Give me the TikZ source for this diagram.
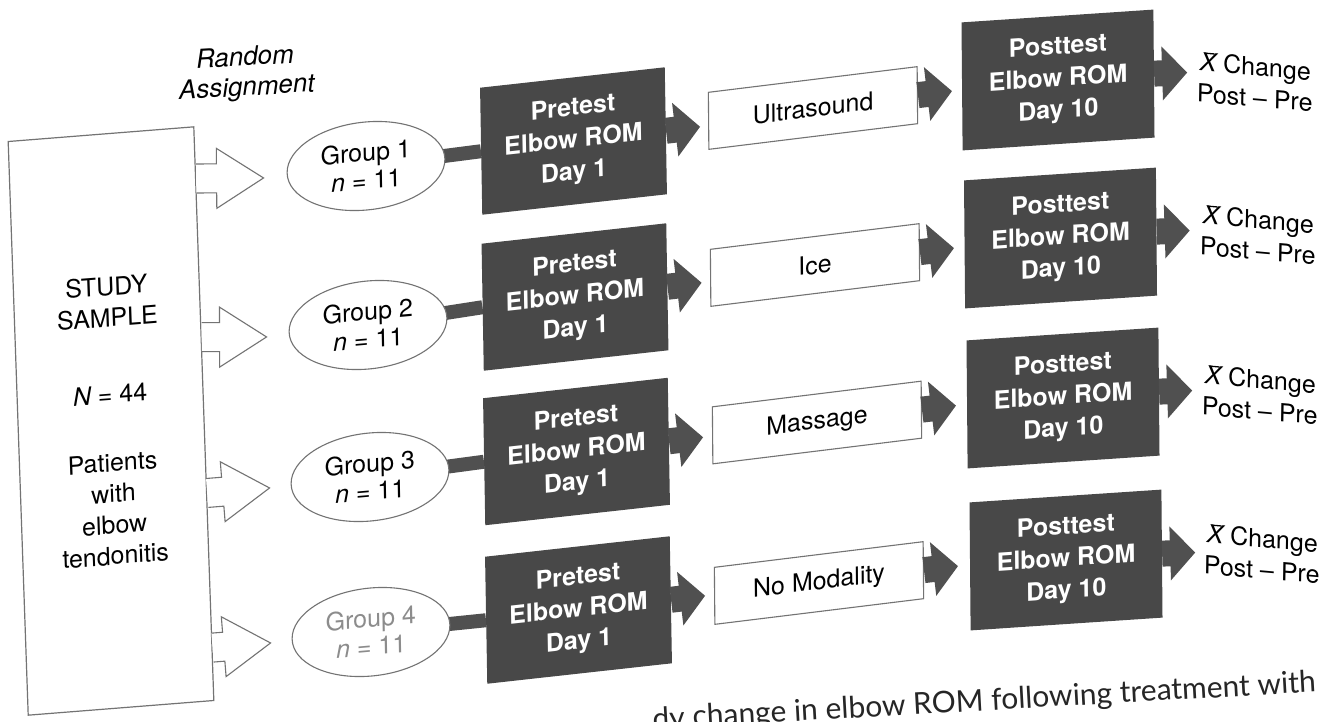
\documentclass[tikz,border=0pt]{standalone}
\usepackage{fontspec}
\setmainfont{TeX Gyre Heros}
\newfontfamily\capfont{Lato}
\usetikzlibrary{calc,backgrounds,shapes.geometric}
\definecolor{boxdark}{RGB}{72,72,72}
\definecolor{arrdark}{RGB}{80,80,80}
\definecolor{rimgray}{RGB}{115,115,115}

\newcommand\arrowpts[5]{%
  \coordinate (faS) at (#1);
  \coordinate (faE) at (#2);
  \coordinate (faH) at ($(faE)!#5!(faS)$);
  \coordinate (fa1) at ($(faS)!#3!90:(faE)$);
  \coordinate (fa2) at ($(faH)!#3!-90:(faS)$);
  \coordinate (fa3) at ($(faH)!#4!-90:(faS)$);
  \coordinate (fa4) at ($(faH)!#4!90:(faS)$);
  \coordinate (fa5) at ($(faH)!#3!90:(faS)$);
  \coordinate (fa6) at ($(faS)!#3!-90:(faE)$);
}
\newcommand\darkarrow[2]{%
  \arrowpts{#1}{#2}{13pt}{27pt}{25pt}%
  \fill[arrdark] (fa1)--(fa2)--(fa3)--(faE)--(fa4)--(fa5)--(fa6)--cycle;}
\newcommand\hollowarrow[2]{%
  \arrowpts{#1}{#2}{14.5pt}{30pt}{47pt}%
  \fill[white] (fa1)--(fa2)--(fa3)--(faE)--(fa4)--(fa5)--(fa6)--cycle;
  \draw[rimgray, line width=1.1pt, line join=miter] (fa1)--(fa2)--(fa3)--(faE)--(fa4)--(fa5)--(fa6);}
\newcommand\xbar{\mbox{\itshape X}\llap{\raisebox{17.5pt}{\rule{9pt}{1.3pt}}\hspace{2pt}}}

\tikzset{
  txt/.style={font=\fontsize{25}{31}\selectfont, align=center, inner sep=0pt},
  studybox/.style={txt, draw=rimgray, line width=1.2pt, fill=white, minimum width=186pt, minimum height=574pt, rotate=2, yslant=0.044},
  grp/.style={txt, ellipse, draw=rimgray, line width=1.1pt, fill=white, minimum width=158pt, minimum height=88pt, font=\fontsize{25}{28}\selectfont, rotate=1, yslant=0.07},
  darkbox/.style={txt, fill=boxdark, text=white, font=\bfseries\fontsize{25}{32}\selectfont},
  prebox/.style={darkbox, minimum width=185pt, minimum height=127pt, rotate=1, yslant=0.093},
  postbox/.style={darkbox, minimum width=192pt, minimum height=128pt, rotate=0.5, yslant=0.058},
  treat/.style={txt, draw=rimgray, line width=1.1pt, fill=white, minimum width=209pt, minimum height=57pt, rotate=0.5, yslant=0.114},
  result/.style={txt, rotate=-1, yslant=-0.07},
  conn/.style={draw=arrdark, line width=14pt},
}

\begin{document}
\begin{tikzpicture}[x=1pt,y=-1pt]
\useasboundingbox (0,0) rectangle (1336,721);
\clip (0,0) rectangle (1336,721);
\begin{scope}[on background layer]
  \fill[white] (0,0) rectangle (1336,721);
\end{scope}

\node[txt, font=\itshape\fontsize{26}{30}\selectfont, rotate=3.4] (ra) at (246,74) {Random\\Assignment};

\node[studybox] (study) at (111,421) {STUDY\\SAMPLE\\[46pt]{\itshape N} = 44\\[37pt]Patients\\with\\elbow\\tendonitis};

% groups
\node[grp] (g1) at (366,166) {Group 1\\{\itshape n} = 11};
\node[grp] (g2) at (368,325) {Group 2\\{\itshape n} = 11};
\node[grp] (g3) at (370,477) {Group 3\\{\itshape n} = 11};
\node[grp, text=black!45] (g4) at (371,632) {Group 4\\{\itshape n} = 11};

% random assignment arrows
\coordinate (r1) at ($(g1.west)+(-23,5)$);
\coordinate (r2) at ($(g2.west)+(-22,5)$);
\coordinate (r3) at ($(g3.west)+(-21,4)$);
\coordinate (r4) at ($(g4.west)+(-21,4)$);
\hollowarrow{$(study.north east)!0.091!(study.south east)$}{r1}
\hollowarrow{$(study.north east)!0.367!(study.south east)$}{r2}
\hollowarrow{$(study.north east)!0.638!(study.south east)$}{r3}
\hollowarrow{$(study.north east)!0.907!(study.south east)$}{r4}

% pretest
\node[prebox] (pre1) at (573.5,141) {Pretest\\Elbow ROM\\Day 1};
\node[prebox] (pre2) at (575,297) {Pretest\\Elbow ROM\\Day 1};
\node[prebox] (pre3) at (576.5,451.5) {Pretest\\Elbow ROM\\Day 1};
\node[prebox] (pre4) at (578.5,610) {Pretest\\Elbow ROM\\Day 1};

% treatments
\node[treat] (tr1) at (813,108) {Ultrasound};
\node[treat] (tr2) at (815,265) {Ice};
\node[treat] (tr3) at (817,422.5) {Massage};
\node[treat] (tr4) at (819,583) {No Modality};

% posttest
\node[postbox] (po1) at (1058,80) {Posttest\\Elbow ROM\\Day 10};
\node[postbox] (po2) at (1060.5,238) {Posttest\\Elbow ROM\\Day 10};
\node[postbox] (po3) at (1063,398) {Posttest\\Elbow ROM\\Day 10};
\node[postbox] (po4) at (1066,560) {Posttest\\Elbow ROM\\Day 10};

% results
\node[result] (res1) at (1255,82) {\xbar{} Change\\Post -- Pre};
\node[result] (res2) at (1258,235) {\xbar{} Change\\Post -- Pre};
\node[result] (res3) at (1260,395) {\xbar{} Change\\Post -- Pre};
\node[result] (res4) at (1262,554) {\xbar{} Change\\Post -- Pre};

% fat arrows
\foreach \i in {1,2,3,4}{
  \darkarrow{pre\i.east}{$(pre\i.east)+(34,-4)$}
  \darkarrow{tr\i.east}{$(tr\i.east)+(34,-4)$}
  \darkarrow{po\i.east}{$(po\i.east)+(33,-1)$}
}

% connectors group -> pretest
\begin{scope}[on background layer]
  \foreach \i in {1,2,3,4}{ \draw[conn] (g\i.center) -- (pre\i.west); }
\end{scope}

% caption fragment
\node[font=\capfont\fontsize{30}{31}\selectfont, anchor=base west, rotate=3.2, inner sep=0pt, text=black!85] (cap) at (653,729) {dy change in elbow ROM following treatment with};
\end{tikzpicture}
\end{document}
